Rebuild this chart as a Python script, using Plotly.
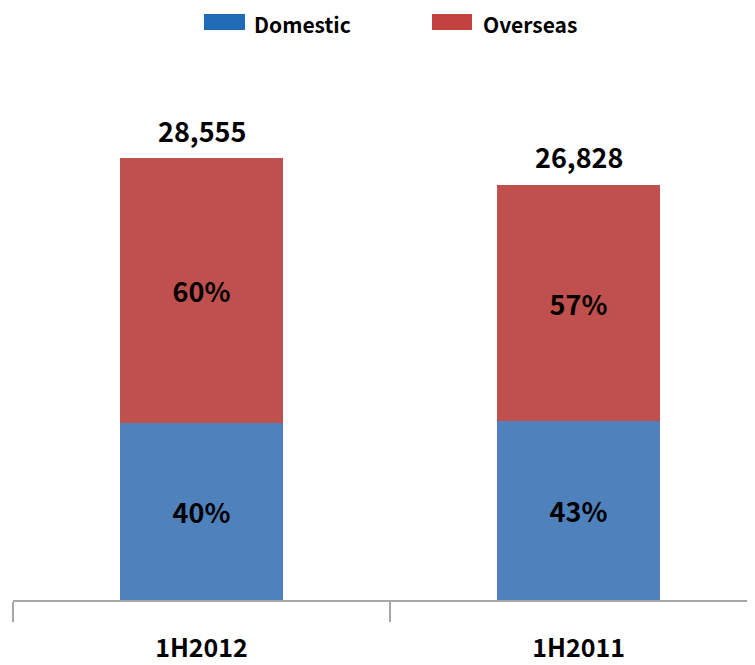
import plotly.graph_objects as go

categories = ["1H2012", "1H2011"]
domestic = [11422, 11536]
overseas = [17133, 15292]
totals = [28555, 26828]
domestic_pct = ["40%", "43%"]
overseas_pct = ["60%", "57%"]
total_labels = ["28,555", "26,828"]

FONT = "Noto Sans CJK KR"
OFF = 8  # page body offset
W, H = 755 - OFF, 665 - OFF
L, R, T, B = 13 - OFF, 0, 60 - OFF, 65
pw, ph = W - L - R, H - T - B

def px(x):
    return (x - OFF - L) / pw

def py(y):
    return (H - B - (y - OFF)) / ph

fig = go.Figure()
fig.add_trace(go.Bar(
    x=categories, y=domestic, name="Domestic",
    marker=dict(color="#4F81BD", line=dict(width=0)),
    text=domestic_pct, textposition="inside", insidetextanchor="middle",
    textfont=dict(family=FONT, size=27, color="black", weight="bold"),
    width=0.43, showlegend=False,
))
fig.add_trace(go.Bar(
    x=categories, y=overseas, name="Overseas",
    marker=dict(color="#C0504D", line=dict(width=0)),
    text=overseas_pct, textposition="inside", insidetextanchor="middle",
    textfont=dict(family=FONT, size=27, color="black", weight="bold"),
    width=0.43, showlegend=False,
))

for c, t, lab in zip(categories, totals, total_labels):
    fig.add_annotation(x=c, y=t, text=lab, showarrow=False, yanchor="middle",
                       yshift=28, font=dict(family=FONT, size=27, color="black", weight="bold"))

# legend (custom)
legend_items = [("Domestic", "#1F6BB5", 204, 245, 253), ("Overseas", "#C3413F", 432, 472, 482)]
for name, col, x0, x1, tx in legend_items:
    fig.add_shape(type="rect", xref="paper", yref="paper",
                  x0=px(x0), x1=px(x1), y0=py(30), y1=py(14),
                  fillcolor=col, line=dict(width=0))
    fig.add_annotation(xref="paper", yref="paper", x=px(tx), y=py(24), text=name,
                       showarrow=False, xanchor="left", yanchor="middle", borderpad=0,
                       font=dict(family=FONT, size=21, color="black", weight="bold"))

fig.update_layout(
    width=W, height=H, barmode="stack",
    margin=dict(l=L, r=R, t=T, b=B),
    plot_bgcolor="white", paper_bgcolor="white",
    uniformtext=dict(mode="show", minsize=10),
)
fig.update_xaxes(range=[-0.5, 1.468], showline=True, linecolor="#A6A6A6", linewidth=2,
                 ticks="outside", tickson="boundaries", ticklen=20, tickcolor="#A6A6A6",
                 tickwidth=2, ticklabelstandoff=25,
                 tickfont=dict(family=FONT, size=25, color="black", weight="bold"))
fig.update_yaxes(range=[0, 34886], visible=False, showgrid=False)

fig.write_html("out.html")
